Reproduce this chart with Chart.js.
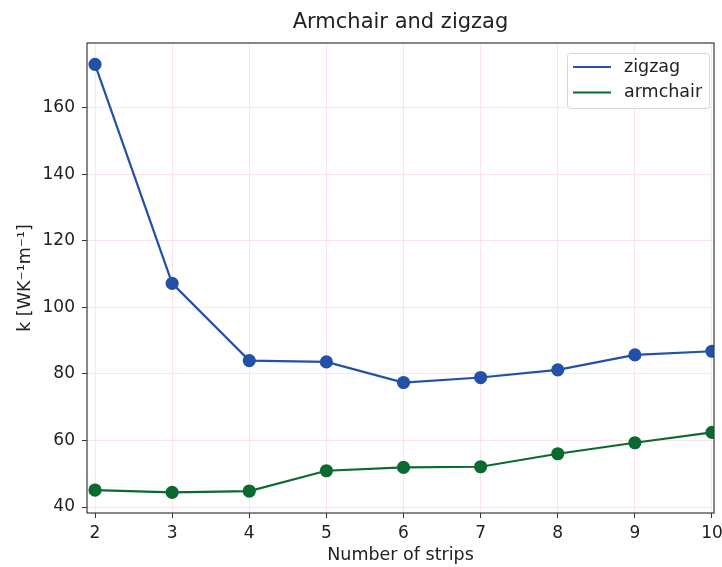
<!DOCTYPE html>
<html lang="en">
<head>
  <meta charset="UTF-8">
  <script src="https://cdn.jsdelivr.net/npm/chart.js"></script>
  <style>
    html, body { margin: 0; padding: 0; background: #fff; }
    #wrap { width: 722px; height: 567px; }
  </style>
</head>
<body>
  <div id="wrap"><canvas id="chart"></canvas></div>

<script>
  // data
  const strips = [2, 3, 4, 5, 6, 7, 8, 9, 10];
  const zigzag = [173.0, 107.2, 84.0, 83.6, 77.4, 78.9, 81.2, 85.7, 86.8];
  const armchair = [45.1, 44.4, 44.8, 50.9, 51.9, 52.1, 56.0, 59.3, 62.4];
  const xTicks = [2, 3, 4, 5, 6, 7, 8, 9, 10];
  const yTicks = [40, 60, 80, 100, 120, 140, 160];
  const chartTitle = 'Armchair and zigzag';

  const FONT = "'DejaVu Sans', sans-serif";
  const BLUE = '#2350a8';
  const GREEN = '#0b6a2f';
  const GRID = '#fde4eb';

  // frame round the plot area, title centred over it, legend inside it
  const framePlugin = {
    id: 'frame',
    afterDatasetsDraw(chart) {
      const { ctx, chartArea: a } = chart;
      ctx.save();
      ctx.strokeStyle = '#3a3a3a';
      ctx.lineWidth = 1.2;
      ctx.strokeRect(a.left, a.top, a.right - a.left, a.bottom - a.top);

      // title (matplotlib centres it on the axes, not the canvas)
      ctx.fillStyle = '#222';
      ctx.font = '21px ' + FONT;
      ctx.textAlign = 'center';
      ctx.textBaseline = 'middle';
      ctx.fillText(chartTitle, (a.left + a.right) / 2, 23);

      // legend box
      const bx = 567, by = 53, bw = 142, bh = 55;
      ctx.fillStyle = 'rgba(255,255,255,0.85)';
      ctx.strokeStyle = '#d6d6d6';
      ctx.lineWidth = 1;
      ctx.beginPath();
      ctx.roundRect(bx + 0.5, by + 0.5, bw, bh, 3);
      ctx.fill();
      ctx.stroke();
      ctx.font = '17.5px ' + FONT;
      ctx.textAlign = 'left';
      chart.data.datasets.forEach((ds, i) => {
        const y = by + 14 + i * 25.5;
        ctx.strokeStyle = ds.borderColor;
        ctx.lineWidth = 2.2;
        ctx.beginPath();
        ctx.moveTo(bx + 6, y);
        ctx.lineTo(bx + 44, y);
        ctx.stroke();
        ctx.fillStyle = '#222';
        ctx.fillText(ds.label, bx + 57, y);
      });
      ctx.restore();
    }
  };

  new Chart(document.getElementById('chart'), {
    type: 'line',
    data: {
      datasets: [
        {
          label: 'zigzag',
          data: strips.map((x, i) => ({ x: x, y: zigzag[i] })),
          borderColor: BLUE,
          backgroundColor: BLUE,
          borderWidth: 2.2,
          pointRadius: 5.5,
          pointHoverRadius: 5.5,
          tension: 0
        },
        {
          label: 'armchair',
          data: strips.map((x, i) => ({ x: x, y: armchair[i] })),
          borderColor: GREEN,
          backgroundColor: GREEN,
          borderWidth: 2.2,
          pointRadius: 5.5,
          pointHoverRadius: 5.5,
          tension: 0
        }
      ]
    },
    options: {
      responsive: true,
      maintainAspectRatio: false,
      animation: false,
      layout: { padding: { left: 0, right: 8, top: 0, bottom: 0 } },
      plugins: {
        legend: { display: false },
        tooltip: { enabled: false },
        // only reserves the space; the text is drawn by framePlugin
        title: {
          display: true,
          text: chartTitle,
          color: 'rgba(0,0,0,0)',
          font: { family: FONT, size: 21, weight: 'normal' },
          padding: { top: 10.4, bottom: 7.4 }
        }
      },
      scales: {
        x: {
          type: 'linear',
          min: 1.896,
          max: 10.026,
          afterBuildTicks: s => { s.ticks = xTicks.map(v => ({ value: v })); },
          afterFit: s => { s.height = 54; s.paddingLeft = 0; s.paddingRight = 0; },
          grid: { color: GRID, tickColor: '#333', tickLength: 5 },
          border: { display: false },
          ticks: { color: '#222', padding: 5, font: { family: FONT, size: 17 }, maxRotation: 0 },
          title: {
            display: true,
            text: 'Number of strips',
            color: '#222',
            font: { family: FONT, size: 17.5 },
            padding: { top: 0, bottom: 1.5 }
          }
        },
        y: {
          min: 38.2,
          max: 179.4,
          afterBuildTicks: s => { s.ticks = yTicks.map(v => ({ value: v })); },
          afterFit: s => { s.width = 87; },
          grid: { color: GRID, tickColor: '#333', tickLength: 5 },
          border: { display: false },
          ticks: { color: '#222', padding: 7, font: { family: FONT, size: 17 } },
          title: {
            display: true,
            text: 'k [WK⁻¹m⁻¹]',
            color: '#222',
            font: { family: FONT, size: 17.5 },
            padding: { top: 14.5, bottom: 0 }
          }
        }
      }
    },
    plugins: [framePlugin]
  });
</script>
</body>
</html>
